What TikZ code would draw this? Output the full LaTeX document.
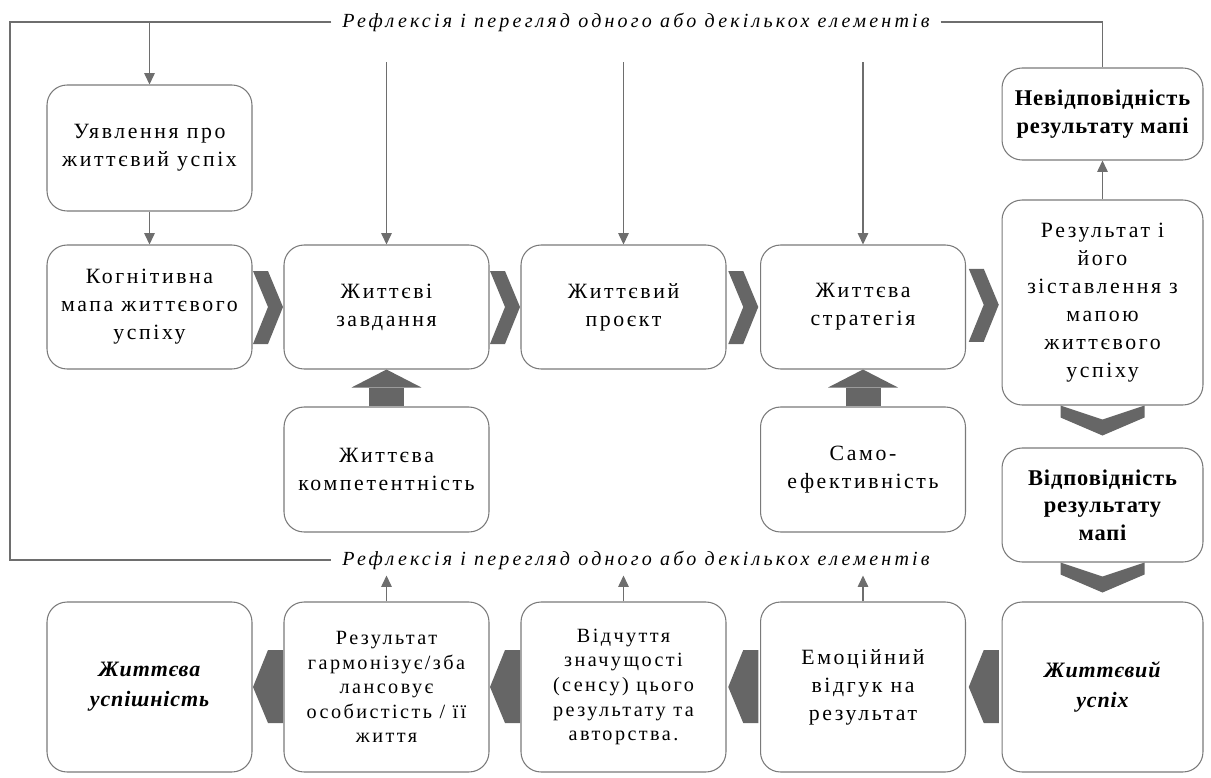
\documentclass[tikz,border=0pt]{standalone}
\usepackage{fontspec}
\setmainfont{Liberation Serif}[LetterSpace=12]
\newfontfamily\fbfont{Liberation Serif}[LetterSpace=16]
\newfontfamily\tightfont{Liberation Serif}[LetterSpace=4]
\usetikzlibrary{arrows.meta,calc}
\definecolor{linegray}{HTML}{6E6E6E}
\definecolor{boxgray}{HTML}{7A7A7A}
\definecolor{chevgray}{HTML}{666666}

\begin{document}
\begin{tikzpicture}[x=0.02cm,y=-0.02cm,
	stage/.style={draw=boxgray,line width=0.6pt,rounded corners=0.4cm,fill=white,
		minimum width=4.1cm,align=center,font=\fontsize{12.4}{16}\selectfont},
	longstage/.style={stage,font=\fontsize{11.5}{14}\selectfont},
	goal/.style={stage,font=\tightfont\bfseries\itshape\fontsize{12.5}{17}\selectfont},
	check/.style={stage,font=\tightfont\bfseries\fontsize{12.8}{15.6}\selectfont},
	feedback/.style={font=\fbfont\itshape\fontsize{11.4}{14}\selectfont,inner xsep=6pt},
	thin/.style={draw=linegray,line width=0.7pt},
	arr/.style={thin,-{Triangle[length=6.5pt,width=6pt]}},
	bigarrow/.style={draw=chevgray,line width=0.7cm,-{Triangle[length=0.36cm,width=1.4cm,line width=0pt]}},
	chev/.style={fill=chevgray}]
	\useasboundingbox (0,0) rectangle (1211,778);

	\node[stage,minimum height=2.52cm] (idea) at (149.5,148) {Уявлення про\\життєвий успіх};
	\node[stage,minimum height=2.48cm] (map) at (149.5,307) {Когнітивна\\мапа життєвого\\успіху};
	\node[stage,minimum height=2.48cm] (tasks) at (386.5,307) {Життєві\\завдання};
	\node[stage,minimum height=2.48cm] (project) at (623.5,307) {Життєвий\\проєкт};
	\node[stage,minimum height=2.48cm] (strategy) at (863,307) {Життєва\\стратегія};
	\node[stage,minimum width=4.02cm,minimum height=4.1cm] (result) at (1102.5,302.5) {Результат і\\його\\зіставлення з\\мапою\\життєвого\\успіху};
	\node[check,minimum width=4.02cm,minimum height=1.84cm] (mismatch) at (1102.5,114) {Невідповідність\\результату мапі};
	\node[stage,minimum height=2.5cm] (competence) at (386.5,469.5) {Життєва\\компетентність};
	\node[stage,minimum height=2.5cm] (selfeff) at (863,469.5) {Само-\\ефективність};
	\node[check,minimum width=4.02cm,minimum height=2.28cm] (match) at (1102.5,505) {Відповідність\\результату\\мапі};

	\node[goal,minimum width=4.02cm,minimum height=3.4cm] (success) at (1102.5,687) {Життєвий\\успіх};
	\node[stage,minimum height=3.4cm] (emotion) at (863,687) {Емоційний\\відгук на\\результат};
	\node[longstage,minimum height=3.4cm] (meaning) at (623.5,687) {Відчуття\\значущості\\(сенсу) цього\\результату та\\авторства.};
	\node[longstage,minimum height=3.4cm] (harmony) at (386.5,687) {Результат\\гармонізує/зба\\лансовує\\особистість / її\\життя};
	\node[goal,minimum height=3.4cm] (successful) at (149.5,687) {Життєва\\успішність};

	\node[feedback] (fbtop) at (636,22) {Рефлексія і перегляд одного або декількох елементів};
	\node[feedback] (fbbot) at (636,560) {Рефлексія і перегляд одного або декількох елементів};

	\coordinate (loop) at (10,300);
	\coordinate (drop) at (0,62);
	\draw[thin] (fbtop.west) -| (loop) |- (fbbot.west);
	\draw[thin] (fbtop.east) -| (mismatch.north);
	\draw[arr] (idea.north |- fbtop) -- (idea.north);
	\foreach \n in {tasks,project,strategy}
		\draw[arr] (\n.north |- drop) -- (\n.north);
	\draw[arr] (idea) -- (map);
	\draw[arr] (result) -- (mismatch);
	\foreach \n in {harmony,meaning,emotion}
		\draw[arr] (\n.north) -- (\n.north |- fbbot.south);

	\draw[bigarrow] (competence) -- (tasks);
	\draw[bigarrow] (selfeff) -- (strategy);

	\foreach \a/\b in {map/tasks,tasks/project,project/strategy,strategy/result}
		\fill[chev] ($(\a.east)!0.5!(\b.west)$) ++(-15,-36) -- ++(15,0) -- ++(15,36) -- ++(-15,37) -- ++(-15,0) -- ++(15,-37) -- cycle;
	\foreach \a/\b in {success/emotion,emotion/meaning,meaning/harmony,harmony/successful}
		\fill[chev] ($(\a.west)!0.5!(\b.east)$) ++(15,-37) -- ++(-15,0) -- ++(-15,37) -- ++(15,36) -- ++(15,0) -- cycle;
	\foreach \a in {result,match}
		\fill[chev] (\a.south) ++(-42,0) -- ++(0,12) -- ++(42,18) -- ++(42,-18) -- ++(0,-12) -- ++(-42,14) -- cycle;
\end{tikzpicture}
\end{document}
